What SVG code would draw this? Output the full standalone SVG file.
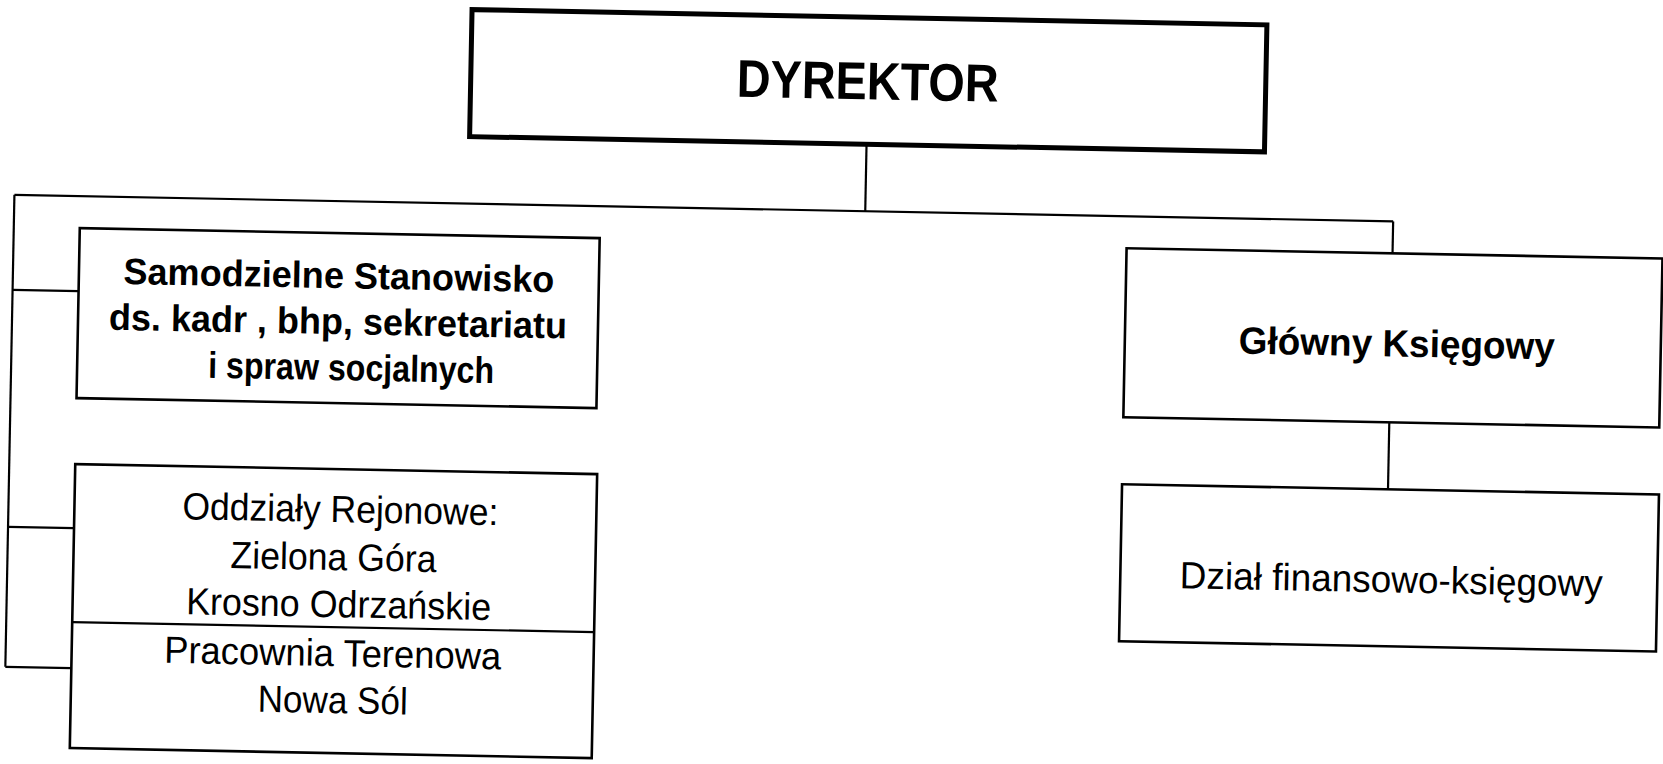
<svg xmlns="http://www.w3.org/2000/svg" width="1663" height="764" viewBox="0 0 1663 764">
  <style>
    .box { fill: #ffffff; stroke: #000000; stroke-width: 2.6; }
    .boxThick { fill: #ffffff; stroke: #000000; stroke-width: 5; }
    .conn { fill: none; stroke: #000000; stroke-width: 2.2; }
    .b { font-family: "Liberation Sans", Arial, sans-serif; font-weight: bold; fill: #000000; text-anchor: middle; }
    .r { font-family: "Liberation Sans", Arial, sans-serif; font-weight: normal; fill: #000000; text-anchor: middle; }
  </style>
  <rect width="1663" height="764" fill="#ffffff"/>
  <g transform="rotate(1.1 800 380)">
    <g id="connectors">
      <path class="conn" d="M862 143 V210"/>
      <path class="conn" d="M11 210 H1390"/>
      <path class="conn" d="M11 210 V682"/>
      <path class="conn" d="M11 305 H77"/>
      <path class="conn" d="M11 542 H77"/>
      <path class="conn" d="M11 682 H77"/>
      <path class="conn" d="M1390 210 V242"/>
      <path class="conn" d="M1390 411 V478"/>
    </g>
    <g id="dyrektor">
      <rect class="boxThick" x="465" y="16" width="795" height="127"/>
      <text class="b" x="862" y="98" font-size="53" textLength="262" lengthAdjust="spacingAndGlyphs">DYREKTOR</text>
    </g>
    <g id="samodzielne">
      <rect class="box" x="77" y="242" width="520" height="170"/>
      <text class="b" x="337" y="297" font-size="37" textLength="431" lengthAdjust="spacingAndGlyphs">Samodzielne Stanowisko</text>
      <text class="b" x="337" y="343" font-size="37" textLength="458" lengthAdjust="spacingAndGlyphs">ds. kadr , bhp, sekretariatu</text>
      <text class="b" x="351" y="389" font-size="37" textLength="286" lengthAdjust="spacingAndGlyphs">i spraw socjalnych</text>
    </g>
    <g id="oddzialy">
      <rect class="box" x="77" y="478" width="522" height="284"/>
      <path class="conn" d="M77 636 H599"/>
      <text class="r" x="343" y="531" font-size="38" textLength="316" lengthAdjust="spacingAndGlyphs">Oddziały Rejonowe:</text>
      <text class="r" x="337" y="579" font-size="38" textLength="206" lengthAdjust="spacingAndGlyphs">Zielona Góra</text>
      <text class="r" x="343" y="626" font-size="38" textLength="305" lengthAdjust="spacingAndGlyphs">Krosno Odrzańskie</text>
      <text class="r" x="338" y="675" font-size="38" textLength="337" lengthAdjust="spacingAndGlyphs">Pracownia Terenowa</text>
      <text class="r" x="339" y="722" font-size="38" textLength="150" lengthAdjust="spacingAndGlyphs">Nowa Sól</text>
    </g>
    <g id="glowny">
      <rect class="box" x="1124" y="242" width="536" height="169"/>
      <text class="b" x="1396" y="345" font-size="38" textLength="316" lengthAdjust="spacingAndGlyphs">Główny Księgowy</text>
    </g>
    <g id="dzial">
      <rect class="box" x="1124" y="478" width="537" height="157"/>
      <text class="r" x="1395" y="581" font-size="38" textLength="423" lengthAdjust="spacingAndGlyphs">Dział finansowo-księgowy</text>
    </g>
  </g>
</svg>
